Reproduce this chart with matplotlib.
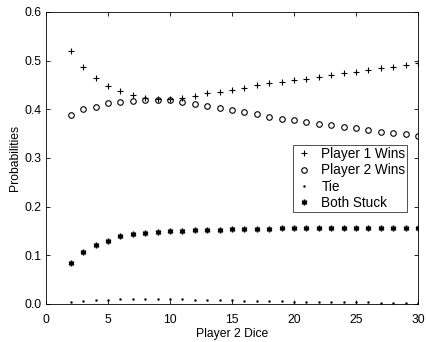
import matplotlib
matplotlib.use("Agg")
import matplotlib.pyplot as plt

plt.rcParams['font.family'] = ['Liberation Sans', 'DejaVu Sans']

dice = list(range(2, 31))
p1_wins = [0.520, 0.488, 0.465, 0.447, 0.437, 0.429, 0.423, 0.421, 0.421, 0.424,
           0.428, 0.433, 0.436, 0.439, 0.443, 0.449, 0.454, 0.456, 0.460, 0.463,
           0.467, 0.471, 0.474, 0.477, 0.480, 0.484, 0.488, 0.491, 0.495]
p2_wins = [0.388, 0.400, 0.404, 0.413, 0.415, 0.417, 0.420, 0.420, 0.419, 0.416,
           0.411, 0.406, 0.403, 0.399, 0.395, 0.390, 0.385, 0.381, 0.378, 0.375,
           0.370, 0.367, 0.364, 0.361, 0.358, 0.354, 0.352, 0.349, 0.345]
tie = [0.005, 0.007, 0.008, 0.009, 0.010, 0.011, 0.011, 0.011, 0.010, 0.010,
       0.009, 0.009, 0.008, 0.008, 0.007, 0.007, 0.006, 0.006, 0.005, 0.005,
       0.005, 0.004, 0.004, 0.004, 0.004, 0.003, 0.003, 0.003, 0.003]
both_stuck = [0.084, 0.106, 0.122, 0.130, 0.139, 0.143, 0.146, 0.148, 0.149, 0.150,
              0.152, 0.152, 0.153, 0.154, 0.155, 0.155, 0.155, 0.156, 0.156, 0.156,
              0.156, 0.156, 0.157, 0.157, 0.157, 0.157, 0.157, 0.157, 0.157]

fig = plt.figure(figsize=(4.26, 3.42), dpi=100)
ax = fig.add_axes([46/426, 1-304/342, (418-46)/426, (304-12)/342])

ax.plot(dice, p1_wins, '+', color='k', markersize=4.5, markeredgewidth=0.8, label='Player 1 Wins')
ax.plot(dice, p2_wins, 'o', color='k', markerfacecolor='none', markersize=4,
        markeredgewidth=0.8, label='Player 2 Wins')
ax.plot(dice, tie, '.', color='k', markersize=1.5, label='Tie')
ax.plot(dice, both_stuck, marker=(6, 2, 0), linestyle='none', color='k', markersize=4,
        markeredgewidth=1.1, label='Both Stuck')

ax.set_xlim(0, 30)
ax.set_ylim(0, 0.6)
ax.set_xticks([0, 5, 10, 15, 20, 25, 30])
ax.set_yticks([0, 0.1, 0.2, 0.3, 0.4, 0.5, 0.6])
ax.tick_params(direction='in', top=True, right=True, labelsize=8.7, length=3, width=0.6)
ax.tick_params(axis='x', pad=7)
for s in ax.spines.values():
    s.set_linewidth(0.6)
ax.set_xlabel('Player 2 Dice', fontsize=8.7, labelpad=1.5)
ax.set_ylabel('Probabilities', fontsize=8.7, labelpad=2)

leg = ax.legend(loc='upper left', bbox_to_anchor=(0.665, 0.545), fontsize=9.8,
                frameon=True, fancybox=False, edgecolor='k', borderpad=0.15,
                labelspacing=0.18, handlelength=1.3, handletextpad=0.6,
                borderaxespad=0, markerscale=1.0)
leg.get_frame().set_linewidth(0.6)

plt.savefig('out.png', dpi=100)
